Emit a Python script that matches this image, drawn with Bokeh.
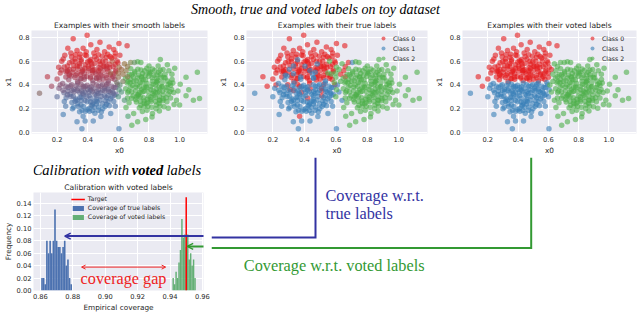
from bokeh.plotting import figure
from bokeh.layouts import row, column
from bokeh.models import Range1d, FixedTicker, PrintfTickFormatter, Arrow, OpenHead, Label
from bokeh.core.properties import value
from bokeh.embed import file_html
from bokeh.resources import INLINE

# ---------------- toy dataset ----------------
# points whose voted label is class 0 (upper red region)
red_x0 = [0.305, 0.396, 0.604, 0.657, 0.137, 0.164, 0.21, 0.23, 0.25, 0.29,
          0.33, 0.37, 0.42, 0.46, 0.51, 0.54, 0.58, 0.61, 0.35, 0.44,
          0.22, 0.20, 0.48, 0.27,
          0.295, 0.357, 0.392, 0.458, 0.495, 0.556, 0.592,
          0.281, 0.318, 0.384, 0.419, 0.482, 0.517, 0.579,
          0.246, 0.305, 0.346, 0.407, 0.441, 0.509, 0.543,
          0.268, 0.331, 0.366, 0.433, 0.469, 0.532, 0.571,
          0.257, 0.291, 0.358, 0.394, 0.457, 0.492, 0.558,
          0.276, 0.334, 0.377, 0.433, 0.476, 0.534, 0.577,
          0.32, 0.47, 0.41, 0.36, 0.52, 0.24, 0.39, 0.57, 0.43, 0.28, 0.53,
          0.318, 0.383, 0.421, 0.478, 0.521, 0.577, 0.309, 0.346, 0.404, 0.447,
          0.503, 0.541, 0.266, 0.334, 0.368, 0.435, 0.471, 0.527, 0.584, 0.279,
          0.322, 0.377, 0.419, 0.484, 0.566, 0.351, 0.459, 0.501, 0.228, 0.268,
          0.347, 0.446, 0.546, 0.298, 0.398, 0.497, 0.597, 0.331, 0.428, 0.524,
          0.281, 0.381, 0.482, 0.583, 0.302, 0.404, 0.501, 0.352, 0.452, 0.548,
          0.317, 0.418, 0.523, 0.377, 0.472, 0.426, 0.473, 0.357, 0.257, 0.566]
red_x1 = [0.79, 0.82, 0.75, 0.73, 0.47, 0.39, 0.55, 0.60, 0.65, 0.67,
          0.69, 0.71, 0.74, 0.70, 0.68, 0.72, 0.67, 0.65, 0.66, 0.67,
          0.50, 0.45, 0.76, 0.71,
          0.638, 0.612, 0.647, 0.616, 0.642, 0.628, 0.603,
          0.587, 0.598, 0.571, 0.596, 0.577, 0.601, 0.572,
          0.551, 0.533, 0.558, 0.539, 0.531, 0.556, 0.548,
          0.514, 0.494, 0.517, 0.502, 0.508, 0.516, 0.493,
          0.468, 0.476, 0.455, 0.472, 0.461, 0.478, 0.456,
          0.445, 0.430, 0.448, 0.437, 0.442, 0.433, 0.447,
          0.655, 0.655, 0.605, 0.51, 0.48, 0.62, 0.68, 0.70, 0.52, 0.49, 0.66,
          0.618, 0.652, 0.615, 0.601, 0.633, 0.641, 0.562, 0.578, 0.557, 0.584,
          0.561, 0.575, 0.522, 0.535, 0.528, 0.523, 0.519, 0.536, 0.526, 0.483,
          0.481, 0.494, 0.469, 0.486, 0.472, 0.451, 0.455, 0.449, 0.527, 0.561,
          0.633, 0.637, 0.641, 0.598, 0.594, 0.597, 0.588, 0.561, 0.553, 0.558,
          0.531, 0.542, 0.536, 0.512, 0.507, 0.515, 0.521, 0.487, 0.493, 0.487,
          0.462, 0.458, 0.461, 0.468, 0.463, 0.577, 0.547, 0.598, 0.512, 0.553]
red_true = [0, 0, 0, 0, 0, 0, 0, 0, 0, 0,
            0, 0, 0, 0, 0, 0, 0, 0, 0, 0,
            0, 0, 0, 0, 0, 1, 0, 0, 0, 0,
            0, 0, 0, 0, 0, 1, 0, 0, 0, 1,
            0, 0, 0, 0, 0, 0, 1, 0, 0, 1,
            0, 2, 0, 1, 0, 0, 1, 0, 0, 1,
            0, 1, 0, 0, 1, 0, 0, 0, 0, 0,
            0, 0, 0, 0, 0, 0, 0,
            0, 0, 0, 0, 0, 0, 0, 0, 1, 0,
            0, 0, 0, 0, 0, 1, 0, 0, 0, 1,
            0, 0, 0, 0, 0, 0, 1, 0, 0, 0,
            0, 0, 0, 0, 0, 0, 0, 1, 0, 0,
            0, 0, 0, 0, 0, 0, 0, 0, 1, 0,
            0, 0, 0, 1, 0, 0, 0, 0, 0, 0]
red_smooth_p0 = [1.0, 1.0, 1.0, 0.95, 0.75, 0.6, 0.85, 0.9, 0.95, 0.95,
                 1.0, 1.0, 1.0, 1.0, 1.0, 1.0, 1.0, 0.95, 1.0, 1.0,
                 0.8, 0.7, 1.0, 1.0, 0.95, 0.95, 0.95, 0.95, 0.95, 0.95,
                 0.9, 0.9, 0.9, 0.9, 0.9, 0.9, 0.9, 0.9, 0.85, 0.85,
                 0.85, 0.85, 0.85, 0.85, 0.85, 0.75, 0.75, 0.75, 0.75, 0.75,
                 0.75, 0.7, 0.65, 0.65, 0.65, 0.65, 0.65, 0.65, 0.65, 0.55,
                 0.55, 0.55, 0.55, 0.55, 0.55, 0.55, 1.0, 1.0, 0.95, 0.8,
                 0.7, 0.9, 1.0, 1.0, 0.8, 0.7, 1.0,
                 0.95, 1.0, 0.95, 0.95, 0.95, 1.0, 0.9, 0.9, 0.9, 0.9,
                 0.9, 0.9, 0.85, 0.8, 0.8, 0.8, 0.8, 0.8, 0.8, 0.7,
                 0.7, 0.7, 0.7, 0.7, 0.65, 0.55, 0.6, 0.6, 0.8, 0.9,
                 0.95, 0.95, 1.0, 0.9, 0.9, 0.9, 0.9, 0.9, 0.85, 0.85,
                 0.8, 0.85, 0.8, 0.75, 0.75, 0.75, 0.75, 0.7, 0.7, 0.7,
                 0.65, 0.65, 0.65, 0.65, 0.65, 0.9, 0.85, 0.9, 0.75, 0.85]

# points whose voted label is class 1 (lower blue region)
blue_x0 = [0.236, 0.295, 0.335, 0.396, 0.434, 0.497, 0.533, 0.594,
           0.212, 0.271, 0.309, 0.372, 0.409, 0.471, 0.509, 0.571,
           0.245, 0.284, 0.347, 0.383, 0.447, 0.484, 0.547, 0.585,
           0.259, 0.322, 0.358, 0.421, 0.458, 0.522, 0.558,
           0.297, 0.333, 0.396, 0.434, 0.497, 0.533,
           0.308, 0.372, 0.408, 0.472, 0.513,
           0.347, 0.384, 0.447, 0.489,
           0.24, 0.256, 0.33, 0.362, 0.383, 0.436, 0.486, 0.604, 0.20, 0.55,
           0.58, 0.37, 0.30, 0.57, 0.36, 0.46, 0.41, 0.51, 0.43, 0.33,
           0.22, 0.47, 0.37, 0.56, 0.27, 0.42, 0.52,
           0.257, 0.324, 0.356, 0.423, 0.456, 0.524, 0.557, 0.298, 0.332, 0.399,
           0.431, 0.498, 0.532, 0.306, 0.373, 0.457, 0.574, 0.349, 0.382, 0.449,
           0.481, 0.548, 0.356, 0.424, 0.457, 0.523, 0.398, 0.432, 0.498, 0.247,
           0.287, 0.383, 0.487, 0.583, 0.238, 0.337, 0.437, 0.537, 0.267, 0.368,
           0.467, 0.566, 0.291, 0.392, 0.489, 0.532, 0.317, 0.418, 0.516, 0.338,
           0.442, 0.541, 0.412, 0.468, 0.363, 0.462, 0.408, 0.512, 0.312, 0.358]
blue_x1 = [0.412, 0.402, 0.416, 0.398, 0.414, 0.403, 0.417, 0.401,
           0.372, 0.378, 0.361, 0.374, 0.379, 0.362, 0.373, 0.379,
           0.334, 0.321, 0.336, 0.338, 0.322, 0.334, 0.339, 0.322,
           0.293, 0.281, 0.298, 0.287, 0.282, 0.294, 0.298,
           0.253, 0.241, 0.258, 0.247, 0.242, 0.258,
           0.213, 0.218, 0.202, 0.214, 0.219,
           0.173, 0.178, 0.162, 0.174,
           0.15, 0.22, 0.09, 0.03, 0.095, 0.095, 0.133, 0.03, 0.30, 0.16,
           0.22, 0.135, 0.20, 0.26, 0.35, 0.345, 0.31, 0.31, 0.23, 0.27,
           0.40, 0.39, 0.39, 0.35, 0.35, 0.355, 0.39,
           0.389, 0.394, 0.406, 0.385, 0.401, 0.405, 0.39, 0.355, 0.353, 0.361,
           0.345, 0.356, 0.365, 0.305, 0.316, 0.309, 0.314, 0.295, 0.269, 0.265,
           0.274, 0.284, 0.23, 0.225, 0.24, 0.235, 0.19, 0.185, 0.2, 0.26,
           0.391, 0.387, 0.391, 0.378, 0.356, 0.373, 0.368, 0.347, 0.318, 0.331,
           0.327, 0.332, 0.303, 0.299, 0.303, 0.312, 0.262, 0.259, 0.266, 0.219,
           0.213, 0.224, 0.178, 0.187, 0.187, 0.258, 0.337, 0.351, 0.342, 0.268]
blue_true = [1, 0, 1, 1, 0, 1, 1, 0, 1, 1,
             0, 1, 1, 1, 0, 1, 1, 1, 1, 0,
             1, 1, 1, 1, 1, 1, 1, 0, 1, 1,
             1, 1, 1, 1, 1, 1, 1, 1, 1, 1,
             1, 1, 1, 1, 1, 1, 1, 1, 1, 1,
             1, 1, 1, 1, 1, 1, 1, 0, 1, 1,
             1, 1, 1, 0, 1, 1, 0, 1, 0, 1,
             1, 1, 1,
             1, 1, 0, 1, 1, 0, 1, 1, 0, 1,
             1, 1, 1, 1, 1, 1, 1, 1, 1, 1,
             1, 1, 1, 1, 1, 1, 1, 1, 1, 1,
             1, 1, 1, 1, 1, 1, 0, 1, 1, 1,
             1, 1, 1, 1, 1, 1, 1, 1, 1, 1,
             1, 1, 1, 1, 1, 1, 1, 0, 1, 1]
blue_smooth_p0 = [0.45, 0.45, 0.45, 0.45, 0.45, 0.45, 0.45, 0.4, 0.4, 0.35,
                  0.35, 0.35, 0.35, 0.35, 0.35, 0.35, 0.25, 0.25, 0.25, 0.25,
                  0.25, 0.25, 0.25, 0.25, 0.15, 0.15, 0.15, 0.15, 0.15, 0.15,
                  0.15, 0.1, 0.1, 0.1, 0.1, 0.1, 0.1, 0.05, 0.05, 0.05,
                  0.05, 0.05, 0.05, 0.05, 0.05, 0.05, 0.05, 0.1, 0.05, 0.05,
                  0.05, 0.05, 0.05, 0.05, 0.2, 0.05, 0.1, 0.05, 0.05, 0.1,
                  0.3, 0.3, 0.2, 0.2, 0.1, 0.12, 0.45, 0.4, 0.4, 0.3,
                  0.3, 0.3, 0.4,
                  0.4, 0.4, 0.45, 0.4, 0.45, 0.45, 0.4, 0.3, 0.3, 0.3,
                  0.3, 0.3, 0.3, 0.2, 0.2, 0.2, 0.2, 0.15, 0.15, 0.12,
                  0.12, 0.12, 0.1, 0.1, 0.08, 0.08, 0.05, 0.05, 0.05, 0.1,
                  0.4, 0.4, 0.4, 0.35, 0.35, 0.35, 0.35, 0.3, 0.25, 0.25,
                  0.25, 0.25, 0.2, 0.2, 0.2, 0.2, 0.12, 0.12, 0.12, 0.08,
                  0.08, 0.08, 0.05, 0.05, 0.05, 0.1, 0.25, 0.3, 0.3, 0.12]

# points whose voted and true label is class 2 (right green cluster)
green_x0 = [0.681, 0.748, 0.786, 0.838, 0.892,
            0.672, 0.706, 0.776, 0.803, 0.874, 0.905,
            0.647, 0.681, 0.752, 0.779, 0.851, 0.879, 0.951,
            0.658, 0.724, 0.755, 0.826, 0.853, 0.924, 0.956,
            0.648, 0.679, 0.751, 0.782, 0.849, 0.881, 0.948, 0.989,
            0.661, 0.726, 0.757, 0.824, 0.856, 0.926, 0.961,
            0.687, 0.743, 0.789, 0.842, 0.893, 0.941,
            0.718, 0.768, 0.814, 0.866, 0.917,
            0.737, 0.793, 0.846, 0.898,
            0.757, 0.823, 0.868,
            0.80, 0.75, 0.85, 0.78, 0.83, 0.73, 0.87, 0.70, 0.874, 0.968,
            1.042, 1.116, 1.13, 1.09, 1.042, 1.004, 0.964, 0.926, 0.726, 0.747,
            0.688, 0.726, 0.779, 0.82, 0.70, 0.95, 1.0, 0.92, 1.06, 0.98,
            0.65, 0.67, 0.93, 0.80, 0.86, 0.66,
            0.708, 0.772, 0.809, 0.874, 0.697, 0.733, 0.797, 0.831, 0.898, 0.664,
            0.717, 0.762, 0.823, 0.857, 0.921, 0.692, 0.738, 0.843, 0.887, 0.941,
            0.668, 0.712, 0.767, 0.812, 0.868, 0.913, 0.696, 0.732, 0.798, 0.833,
            0.893, 0.712, 0.768, 0.812, 0.867, 0.747, 0.784, 0.848,
            0.727, 0.823, 0.862, 0.758, 0.852, 0.688, 0.726, 0.821, 0.906, 0.677,
            0.742, 0.787, 0.886, 0.937, 0.713, 0.768, 0.812, 0.867, 0.917, 0.687,
            0.741, 0.793, 0.842, 0.889, 0.937, 0.718, 0.764, 0.812, 0.868, 0.912,
            0.743, 0.792, 0.842, 0.891, 0.767, 0.817, 0.872, 0.787]
green_x1 = [0.536, 0.527, 0.541, 0.522, 0.531,
            0.488, 0.501, 0.479, 0.497, 0.486, 0.491,
            0.456, 0.447, 0.461, 0.441, 0.452, 0.463, 0.446,
            0.416, 0.399, 0.421, 0.407, 0.419, 0.402, 0.417,
            0.368, 0.381, 0.359, 0.377, 0.366, 0.383, 0.361, 0.349,
            0.336, 0.318, 0.341, 0.327, 0.339, 0.321, 0.336,
            0.287, 0.301, 0.279, 0.297, 0.284, 0.291,
            0.256, 0.246, 0.261, 0.244, 0.259,
            0.208, 0.221, 0.199, 0.216,
            0.176, 0.159, 0.181,
            0.51, 0.47, 0.43, 0.39, 0.35, 0.31, 0.27, 0.43, 0.615, 0.542,
            0.466, 0.507, 0.285, 0.27, 0.31, 0.406, 0.236, 0.203, 0.596, 0.59,
            0.06, 0.09, 0.108, 0.13, 0.16, 0.49, 0.23, 0.57, 0.36, 0.27,
            0.21, 0.25, 0.52, 0.56, 0.56, 0.29,
            0.514, 0.519, 0.509, 0.525, 0.469, 0.484, 0.473, 0.482, 0.464, 0.429,
            0.436, 0.445, 0.431, 0.438, 0.434, 0.397, 0.384, 0.401, 0.388, 0.397,
            0.349, 0.352, 0.347, 0.361, 0.344, 0.357, 0.309, 0.322, 0.304, 0.313,
            0.316, 0.277, 0.264, 0.276, 0.271, 0.229, 0.241, 0.232,
            0.532, 0.535, 0.507, 0.497, 0.484, 0.487, 0.458, 0.461, 0.458, 0.418,
            0.421, 0.412, 0.421, 0.417, 0.383, 0.378, 0.386, 0.383, 0.378, 0.341,
            0.338, 0.344, 0.336, 0.347, 0.343, 0.298, 0.292, 0.298, 0.302, 0.293,
            0.262, 0.257, 0.263, 0.267, 0.219, 0.213, 0.223, 0.186]

# boundary points with mixed smooth labels
mix_x0 = [0.085, 0.63, 0.65, 0.66, 0.62, 0.60, 0.605, 0.60, 0.56, 0.64, 0.63,
          0.61, 0.62, 0.60, 0.64, 0.68, 0.59, 0.663, 0.705, 0.605, 0.55, 0.66]
mix_x1 = [0.33, 0.49, 0.52, 0.555, 0.53, 0.50, 0.55, 0.465, 0.60, 0.58, 0.43,
          0.40, 0.34, 0.30, 0.27, 0.59, 0.42, 0.135, 0.59, 0.36, 0.50, 0.47]
mix_true = [1, 0, 0, 0, 2, 2, 2, 2, 2, 2, 2, 1, 1, 2, 1, 0, 2, 2, 1, 2, 2, 0]
mix_voted = [1, 2, 2, 2, 0, 0, 0, 0, 0, 2, 2, 2, 2, 1, 2, 2, 1, 2, 2, 1, 0, 2]
mix_p0 = [0.4, 0.45, 0.4, 0.4, 0.5, 0.5, 0.55, 0.45, 0.7, 0.45, 0.3,
          0.15, 0.05, 0.05, 0.05, 0.3, 0.3, 0.0, 0.15, 0.1, 0.55, 0.35]
mix_p1 = [0.35, 0.05, 0.05, 0.05, 0.05, 0.1, 0.05, 0.15, 0.05, 0.0, 0.2,
          0.35, 0.4, 0.5, 0.35, 0.05, 0.35, 0.3, 0.2, 0.45, 0.15, 0.1]
mix_p2 = [0.25, 0.5, 0.55, 0.55, 0.45, 0.4, 0.4, 0.4, 0.25, 0.55, 0.5,
          0.5, 0.55, 0.45, 0.6, 0.65, 0.35, 0.7, 0.65, 0.45, 0.3, 0.55]

# ---------------- calibration histograms ----------------
true_cov_edges = [0.8605, 0.8615, 0.8625, 0.8635, 0.8645, 0.8655, 0.8665, 0.8675,
                  0.8685, 0.8695, 0.8705, 0.8715, 0.8725, 0.8735, 0.8745, 0.8755,
                  0.8765, 0.8775, 0.8785, 0.8795]
true_cov_freq = [0.02, 0.02, 0.01, 0.08, 0.06, 0.08, 0.06, 0.08, 0.13, 0.08,
                 0.07, 0.07, 0.06, 0.07, 0.08, 0.04, 0.05, 0.02, 0.01]
voted_cov_edges = [0.9415, 0.9424, 0.9433, 0.9442, 0.9451, 0.9460, 0.9469, 0.9478,
                   0.9487, 0.9496, 0.9505, 0.9514, 0.9523, 0.9532, 0.9541, 0.9550,
                   0.9559]
voted_cov_freq = [0.02, 0.01, 0.03, 0.02, 0.045, 0.065, 0.115, 0.085, 0.09, 0.07,
                  0.09, 0.05, 0.06, 0.04, 0.05, 0.02]
target_coverage = 0.95
target_line_top = 0.15
blue_arrow_tip = (0.875, 0.0875)     # where "coverage w.r.t. true labels" points
green_arrow_tip = (0.9506, 0.0708)   # where "coverage w.r.t. voted labels" points
gap_arrow_x = (0.8854, 0.9373)
gap_arrow_y = 0.0376
gap_text_pos = (0.9113, 0.018)

CLASS_NAMES = ["Class 0", "Class 1", "Class 2"]
CLASS_COLORS = ["#e41a1c", "#377eb8", "#4daf4a"]
CLASS_RGB = [(228, 26, 28), (55, 126, 184), (77, 175, 74)]

# ---------------- assemble ----------------
for grp in ([red_x0, red_x1, red_true, red_smooth_p0],
            [blue_x0, blue_x1, blue_true, blue_smooth_p0],
            [green_x0, green_x1],
            [mix_x0, mix_x1, mix_true, mix_voted, mix_p0, mix_p1, mix_p2]):
    if len(set(len(a) for a in grp)) != 1:
        raise ValueError("length mismatch: %s" % [len(a) for a in grp])

n_r, n_b, n_g = len(red_x0), len(blue_x0), len(green_x0)
x0 = red_x0 + blue_x0 + green_x0 + mix_x0
x1 = red_x1 + blue_x1 + green_x1 + mix_x1
true_lab = red_true + blue_true + [2] * n_g + mix_true
voted_lab = [0] * n_r + [1] * n_b + [2] * n_g + mix_voted
sm0 = red_smooth_p0 + blue_smooth_p0 + [0.0] * n_g + mix_p0
sm1 = [1 - v for v in red_smooth_p0] + [1 - v for v in blue_smooth_p0] + [0.0] * n_g + mix_p1
sm2 = [0.0] * (n_r + n_b) + [1.0] * n_g + mix_p2


def mix_color(a, b, c):
    rgb = [a * CLASS_RGB[0][k] + b * CLASS_RGB[1][k] + c * CLASS_RGB[2][k] for k in range(3)]
    return "#%02x%02x%02x" % tuple(int(round(min(255, max(0, v)))) for v in rgb)


smooth_colors = [mix_color(a, b, c) for a, b, c in zip(sm0, sm1, sm2)]


def padded(vals, frac=0.05):
    lo, hi = min(vals), max(vals)
    m = (hi - lo) * frac
    return lo - m, hi + m


SX = padded(x0)
SY = padded(x1)

FONT = "DejaVu Sans"
SERIF = "Liberation Serif"
TXT = "#262626"
BG = "#EAEAF2"
BLUE_ANN = "#3333a2"
GREEN_ANN = "#339933"
RED_ANN = "#ee2222"
MS = 5.5


def style_axes(p, xt, yt, xfmt, yfmt, xlabel, ylabel, y_label_standoff):
    p.background_fill_color = BG
    p.border_fill_color = "white"
    p.outline_line_color = None
    p.xaxis.ticker = FixedTicker(ticks=xt)
    p.yaxis.ticker = FixedTicker(ticks=yt)
    p.xaxis.formatter = PrintfTickFormatter(format=xfmt)
    p.yaxis.formatter = PrintfTickFormatter(format=yfmt)
    p.xaxis.axis_label = xlabel
    p.yaxis.axis_label = ylabel
    for ax in p.axis:
        ax.axis_line_color = None
        ax.major_tick_line_color = None
        ax.minor_tick_line_color = None
        ax.major_tick_out = 0
        ax.major_tick_in = 0
        ax.minor_tick_out = 0
        ax.minor_tick_in = 0
        ax.major_label_text_font = FONT
        ax.major_label_text_font_size = "6.7px"
        ax.major_label_text_color = TXT
        ax.axis_label_text_font = FONT
        ax.axis_label_text_font_size = "7.3px"
        ax.axis_label_text_font_style = "normal"
        ax.axis_label_text_color = TXT
    p.xaxis.major_label_standoff = 3
    p.xaxis.axis_label_standoff = 1
    p.yaxis.major_label_standoff = 2
    p.yaxis.axis_label_standoff = y_label_standoff
    p.grid.grid_line_color = "white"
    p.grid.grid_line_width = 1
    p.title.text_font = FONT
    p.title.text_font_size = "7.6px"
    p.title.text_font_style = "normal"
    p.title.text_color = TXT
    p.title.align = "center"
    try:
        p.title.standoff = 2
    except Exception:
        pass


def scatter_fig(title, width, left, right):
    p = figure(width=width, height=140, x_range=Range1d(*SX), y_range=Range1d(*SY),
               title=title, output_backend="svg", toolbar_location=None,
               min_border_left=left, min_border_right=right,
               min_border_top=13, min_border_bottom=21)
    style_axes(p, [0.2, 0.4, 0.6, 0.8, 1.0], [0.0, 0.2, 0.4, 0.6, 0.8],
               "%.1f", "%.1f", "x0", "x1", 3)
    return p


def class_scatter(p, labels):
    for k in range(3):
        xs = [a for a, l in zip(x0, labels) if l == k]
        ys = [b for b, l in zip(x1, labels) if l == k]
        p.scatter(xs, ys, size=MS, fill_color=CLASS_COLORS[k], fill_alpha=0.6,
                  line_color=None, legend_label=CLASS_NAMES[k])
    lg = p.legend[0]
    lg.location = "top_right"
    lg.margin = 0
    lg.padding = 3
    lg.spacing = 0
    lg.label_height = 10
    lg.label_width = 31
    lg.glyph_height = 10
    lg.glyph_width = 10
    lg.label_standoff = 5
    lg.label_text_font = FONT
    lg.label_text_font_size = "6.2px"
    lg.label_text_color = TXT
    lg.background_fill_alpha = 0
    lg.border_line_alpha = 0


s1 = scatter_fig("Examples with their smooth labels", 215, 25, 8)
s1.scatter(x0, x1, size=MS, fill_color=smooth_colors, fill_alpha=0.6, line_color=None)
s2 = scatter_fig("Examples with their true labels", 216, 26, 4)
class_scatter(s2, true_lab)
s3 = scatter_fig("Examples with their voted labels", 209, 26, 4)
class_scatter(s3, voted_lab)

# ---------------- top title ----------------
TOP_H = 17
top = figure(width=640, height=TOP_H, x_range=Range1d(0, 640), y_range=Range1d(TOP_H, 0),
             output_backend="svg", toolbar_location=None, min_border=0,
             x_axis_location=None, y_axis_location=None, outline_line_color=None)
top.grid.visible = False
top.text(x=[315], y=[8.5], text=["Smooth, true and voted labels on toy dataset"],
         text_font=value(SERIF), text_font_style="italic", text_font_size="14px",
         text_color="black", text_align="center", text_baseline="middle")

# ---------------- bottom-left: heading + histogram ----------------
HEAD_H, HIST_H, HIST_W = 21, 136, 211
HIST_TOP, HIST_BOTTOM = 14, 21

head = figure(width=HIST_W, height=HEAD_H, x_range=Range1d(0, HIST_W), y_range=Range1d(HEAD_H, 0),
              output_backend="svg", toolbar_location=None, min_border=0,
              x_axis_location=None, y_axis_location=None, outline_line_color=None)
head.grid.visible = False
head.text(x=[118.5], y=[12], text=["Calibration with"], text_font=value(SERIF),
          text_font_style="italic", text_font_size="14.5px", text_color="black",
          text_align="right", text_baseline="middle")
head.text(x=[141.5], y=[12], text=["voted"], text_font=value(SERIF),
          text_font_style="bold italic", text_font_size="14.5px", text_color="black",
          text_align="center", text_baseline="middle")
head.text(x=[165], y=[12], text=["labels"], text_font=value(SERIF),
          text_font_style="italic", text_font_size="14.5px", text_color="black",
          text_align="left", text_baseline="middle")

HX = padded(true_cov_edges + voted_cov_edges)
HYMAX = max(max(true_cov_freq), max(voted_cov_freq), target_line_top) * 1.05
hist = figure(width=HIST_W, height=HIST_H, x_range=Range1d(*HX), y_range=Range1d(0, HYMAX),
              title="Calibration with voted labels", output_backend="svg",
              toolbar_location=None, min_border_left=27, min_border_right=8,
              min_border_top=HIST_TOP, min_border_bottom=HIST_BOTTOM)
style_axes(hist, [0.86, 0.88, 0.90, 0.92, 0.94, 0.96],
           [0.0, 0.02, 0.04, 0.06, 0.08, 0.10, 0.12, 0.14],
           "%.2f", "%.2f", "Empirical coverage", "Frequency", 1)
hist.quad(left=true_cov_edges[:-1], right=true_cov_edges[1:], bottom=0, top=true_cov_freq,
          fill_color="#4c72b0", line_color=None, legend_label="Coverage of true labels")
hist.quad(left=voted_cov_edges[:-1], right=voted_cov_edges[1:], bottom=0, top=voted_cov_freq,
          fill_color="#55a868", fill_alpha=0.9, line_color=None,
          legend_label="Coverage of voted labels")
hist.segment(x0=[target_coverage], y0=[0], x1=[target_coverage], y1=[target_line_top],
             line_color="#ff0000", line_width=1.5, legend_label="Target")
lg = hist.legend[0]
lg.items = [lg.items[2], lg.items[0], lg.items[1]]
lg.location = "top_center"
lg.margin = 0
lg.padding = 2
lg.spacing = 0
lg.label_height = 9
lg.glyph_height = 6
lg.glyph_width = 14
lg.label_standoff = 3
lg.label_text_font = FONT
lg.label_text_font_size = "6.2px"
lg.label_text_color = TXT
lg.background_fill_alpha = 0
lg.border_line_alpha = 0

hist.add_layout(Arrow(end=OpenHead(size=6, line_color=BLUE_ANN, line_width=1.5),
                      x_start=HX[1] + 0.02, y_start=blue_arrow_tip[1],
                      x_end=blue_arrow_tip[0], y_end=blue_arrow_tip[1],
                      line_color=BLUE_ANN, line_width=2))
hist.add_layout(Arrow(end=OpenHead(size=6, line_color=GREEN_ANN, line_width=1.5),
                      x_start=HX[1] + 0.02, y_start=green_arrow_tip[1],
                      x_end=green_arrow_tip[0], y_end=green_arrow_tip[1],
                      line_color=GREEN_ANN, line_width=2))
hist.add_layout(Arrow(start=OpenHead(size=4, line_color=RED_ANN, line_width=1),
                      end=OpenHead(size=4, line_color=RED_ANN, line_width=1),
                      x_start=gap_arrow_x[0], y_start=gap_arrow_y,
                      x_end=gap_arrow_x[1], y_end=gap_arrow_y,
                      line_color=RED_ANN, line_width=1))
hist.add_layout(Label(x=gap_text_pos[0], y=gap_text_pos[1], text="coverage gap",
                      text_font=SERIF, text_font_size="16.2px", text_color=RED_ANN,
                      text_align="center", text_baseline="middle"))

# ---------------- bottom-right: connectors and captions ----------------
ANN_W = 640 - HIST_W
ANN_H = HEAD_H + HIST_H
FRAME_TOP = HEAD_H + HIST_TOP
FRAME_H = HIST_H - HIST_TOP - HIST_BOTTOM


def ypx(v):
    return FRAME_TOP + (HYMAX - v) / HYMAX * FRAME_H


ann = figure(width=ANN_W, height=ANN_H, x_range=Range1d(0, ANN_W), y_range=Range1d(ANN_H, 0),
             output_backend="svg", toolbar_location=None, min_border=0,
             x_axis_location=None, y_axis_location=None, outline_line_color=None)
ann.grid.visible = False
BLUE_VX, GREEN_VX = 104.0, 319.7
ann.line([0, BLUE_VX, BLUE_VX], [ypx(blue_arrow_tip[1]), ypx(blue_arrow_tip[1]), 0],
         line_color=BLUE_ANN, line_width=2, line_join="miter")
ann.line([0, GREEN_VX, GREEN_VX], [ypx(green_arrow_tip[1]), ypx(green_arrow_tip[1]), 0],
         line_color=GREEN_ANN, line_width=2, line_join="miter")
ann.text(x=[114, 114], y=[38, 55.7], text=["Coverage w.r.t.", "true labels"],
         text_font=value(SERIF), text_font_size="16.3px", text_color=BLUE_ANN,
         text_baseline="middle")
ann.text(x=[32.3], y=[108.3], text=["Coverage w.r.t. voted labels"],
         text_font=value(SERIF), text_font_size="16.3px", text_color=GREEN_ANN,
         text_baseline="middle")

layout = column(top, row(s1, s2, s3), row(column(head, hist), ann))
open("out.html", "w").write(file_html(layout, INLINE))
